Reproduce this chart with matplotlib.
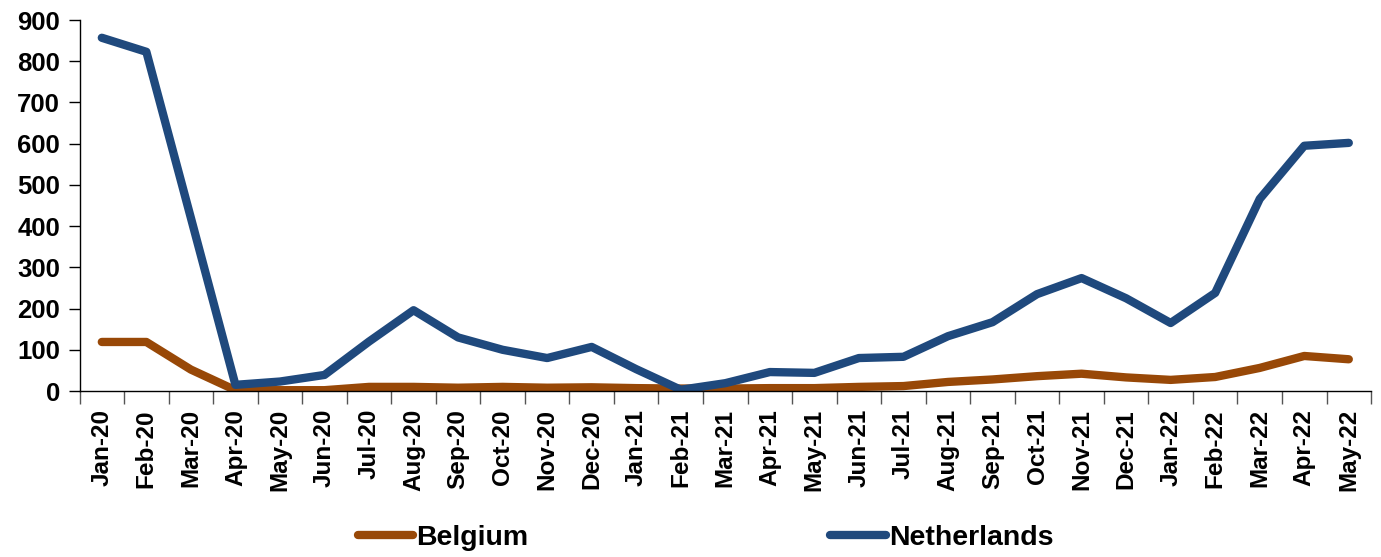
import matplotlib
matplotlib.use("Agg")
import matplotlib.pyplot as plt
import numpy as np

plt.rcParams["font.family"] = ["Liberation Sans", "DejaVu Sans"]

months = ["Jan-20", "Feb-20", "Mar-20", "Apr-20", "May-20", "Jun-20", "Jul-20",
          "Aug-20", "Sep-20", "Oct-20", "Nov-20", "Dec-20", "Jan-21", "Feb-21",
          "Mar-21", "Apr-21", "May-21", "Jun-21", "Jul-21", "Aug-21", "Sep-21",
          "Oct-21", "Nov-21", "Dec-21", "Jan-22", "Feb-22", "Mar-22", "Apr-22",
          "May-22"]
belgium = [119, 119, 52, 2, 2, 2, 10, 10, 8, 10, 8, 9, 7, 6, 6, 7, 7, 10, 12,
           22, 28, 36, 42, 33, 27, 34, 56, 85, 77]
netherlands = [857, 823, 420, 15, 23, 39, 120, 196, 130, 100, 80, 107, 53, 3,
               19, 46, 44, 80, 83, 133, 167, 235, 274, 225, 165, 238, 466, 595, 602]

BROWN = "#984807"
BLUE = "#1F497D"

fig = plt.figure(figsize=(13.81, 5.57), dpi=100)
ax = fig.add_axes([0.0576, 0.298, 0.9352, 0.666])

x = np.arange(len(months))
ax.plot(x, belgium, color=BROWN, linewidth=6, solid_capstyle="round",
        solid_joinstyle="round", label="Belgium")
ax.plot(x, netherlands, color=BLUE, linewidth=6, solid_capstyle="round",
        solid_joinstyle="round", label="Netherlands")

ax.set_xlim(-0.5, len(months) - 0.5)
ax.set_ylim(0, 900)
ax.set_yticks(range(0, 901, 100))
ax.tick_params(axis="y", labelsize=18.5, length=8, width=1, pad=6)
for lbl in ax.get_yticklabels():
    lbl.set_fontweight("bold")

narrow = ["Liberation Sans Narrow", "Liberation Sans", "DejaVu Sans"]
ax.set_xticks(x)
ax.set_xticklabels(months, rotation=90, fontsize=17.5, fontweight="bold",
                   family=narrow)
ax.tick_params(axis="x", which="major", length=0, pad=13)
ax.set_xticks(np.arange(-0.5, len(months), 1), minor=True)
ax.tick_params(axis="x", which="minor", length=9, width=1, color="#555555")

for side in ["top", "right"]:
    ax.spines[side].set_visible(False)
ax.spines["left"].set_linewidth(1)
ax.spines["bottom"].set_linewidth(1)

fig.legend(loc="center", bbox_to_anchor=(0.511, 0.034), ncol=2, frameon=False,
           prop={"weight": "bold", "size": 20.5}, handlelength=1.95,
           handletextpad=0.12, columnspacing=10.6)

fig.savefig("out.png", dpi=100)
